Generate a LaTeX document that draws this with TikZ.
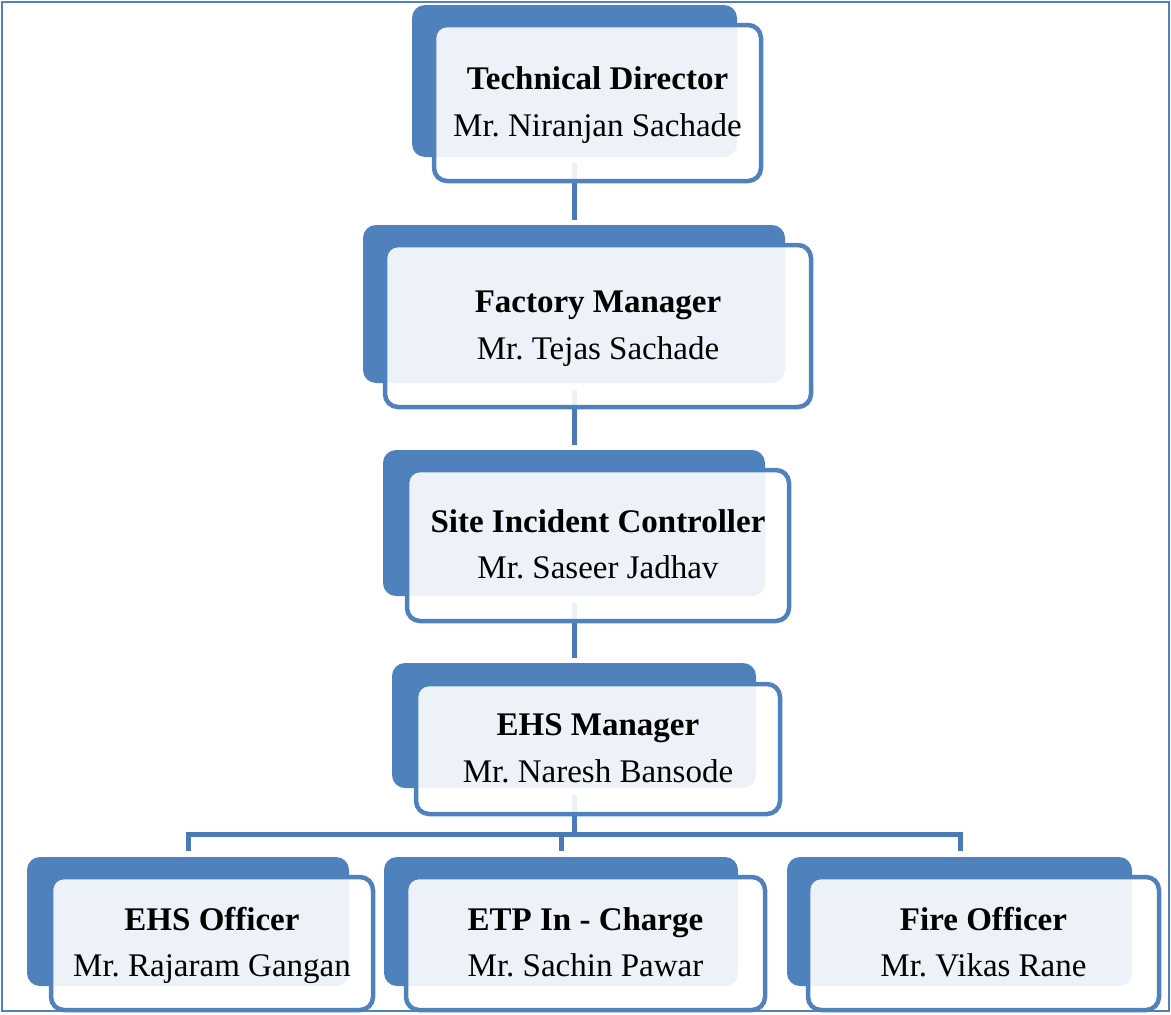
\documentclass[tikz,border=0pt]{standalone}
\usepackage{fontspec}
\setmainfont{Liberation Serif}
\frenchspacing
\definecolor{orgblue}{HTML}{4F81BD}
\definecolor{connblue}{HTML}{4A7BB7}
\tikzset{
  backbox/.style={draw=none, fill=orgblue, rounded corners=13pt, inner sep=0pt},
  outbox/.style={draw=orgblue, line width=4.5pt, fill=white, fill opacity=0.9, draw opacity=1, rounded corners=13pt, inner sep=0pt},
  conn/.style={draw=connblue, line width=5pt},
  titletext/.style={anchor=base, inner sep=0pt, font=\fontsize{33}{40}\selectfont\bfseries},
  nametext/.style={anchor=base, inner sep=0pt, font=\fontsize{33}{40}\selectfont},
}
\newcommand\orgunit[9]{%
  \node[backbox, minimum width=#3pt, minimum height=#4pt] (#1b) at (#2) {};
  \node[outbox, minimum width=#6pt, minimum height=#7pt] (#1o) at (#5) {};
  \node[titletext] (#1t) at ([yshift=13.5pt]#1o.center) {#8};
  \node[nametext] (#1n) at ([yshift=-33pt]#1o.center) {#9};
}
\begin{document}
\begin{tikzpicture}[x=1pt,y=-1pt]
\useasboundingbox (0,0) rectangle (1171,1015);
\fill[white] (0,0) rectangle (1171,1015);
\draw[orgblue, line width=2pt] (2,2) rectangle (1169,1011);
% connector geometry (drawn first, behind boxes)
\coordinate (c1) at (574,157);
\coordinate (c2t) at (574,225);
\coordinate (c2) at (574,383);
\coordinate (c3t) at (574,450);
\coordinate (c3) at (574,596);
\coordinate (c4t) at (574,663);
\coordinate (c4) at (574,788);
\coordinate (bus) at (574,834.5);
\coordinate (c5t) at (188,857);
\coordinate (c6t) at (561,857);
\coordinate (c7t) at (960,857);
\draw[conn, shorten <=6pt, shorten >=5pt] (c1) -- (c2t);
\draw[conn, shorten <=7pt, shorten >=5pt] (c2) -- (c3t);
\draw[conn, shorten <=7pt, shorten >=5pt] (c3) -- (c4t);
\draw[conn, shorten <=7pt] (c4) -- (bus);
\draw[conn, shorten <=6pt, shorten >=6pt] (c5t) |- (bus) -| (c7t);
\draw[conn, shorten <=6pt] (c6t) -- (c6t |- bus);
% boxes
\orgunit{a}{574.5,81}{325}{152}{597.5,103}{327}{156}{Technical Director}{Mr. Niranjan Sachade}
\orgunit{f}{574,304}{422}{158}{598,326}{426}{162}{Factory Manager}{Mr. Tejas Sachade}
\orgunit{s}{574,523}{382}{146}{598,545.5}{382}{151}{Site Incident Controller}{Mr. Saseer Jadhav}
\orgunit{e}{574,725.5}{364}{125}{598,749}{364}{130}{EHS Manager}{Mr. Naresh Bansode}
\orgunit{o}{188,921.5}{322}{129}{212,943.5}{322}{133}{EHS Officer}{Mr. Rajaram Gangan}
\orgunit{p}{561,921.5}{354}{129}{585.5,943.5}{359}{133}{ETP In - Charge}{Mr. Sachin Pawar}
\orgunit{r}{959.5,921.5}{345}{129}{983.5,943.5}{351}{133}{Fire Officer}{Mr. Vikas Rane}
\end{tikzpicture}
\end{document}
